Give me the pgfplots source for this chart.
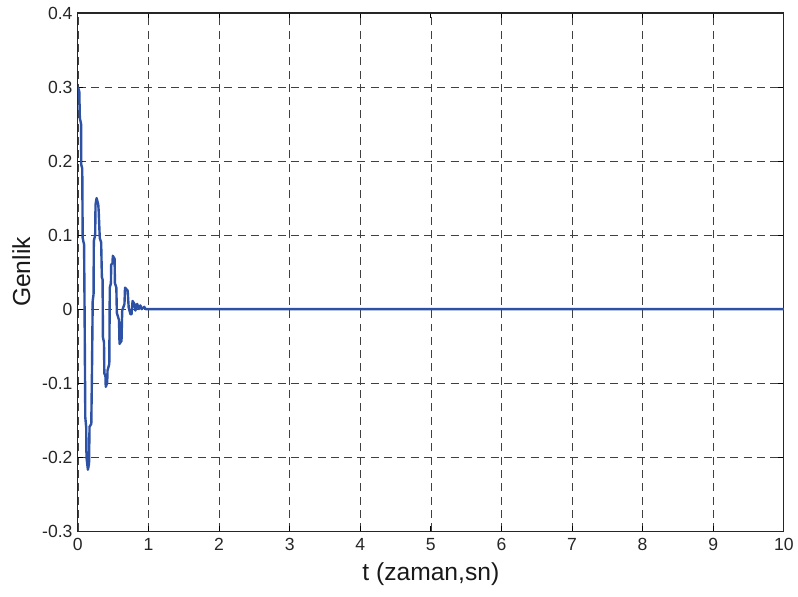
\documentclass[border=0pt]{standalone}
\usepackage{pgfplots}
\pgfplotsset{compat=1.18}
\usepackage{fontspec}
\setmainfont{Liberation Sans}
\definecolor{sigblue}{RGB}{45,82,165}

\begin{document}
\begin{tikzpicture}
\begin{axis}[
  scale only axis,
  width=530.25pt, height=389.25pt,
  xmin=0, xmax=10, ymin=-0.3, ymax=0.4,
  xtick={0,1,...,10},
  ytick={-0.3,-0.2,-0.1,0,0.1,0.2,0.3,0.4},
  yticklabels={-0.3,-0.2,-0.1,0,0.1,0.2,0.3,0.4},
  /pgf/number format/assume math mode=true,
  tick label style={font=\fontsize{13.2pt}{15pt}\selectfont, black!85},
  xticklabel style={yshift=-2pt},
  yticklabel style={xshift=-0.5pt},
  tick align=inside,
  major tick length=4pt,
  tick style={black, line width=0.6pt},
  grid=major,
  major grid style={black!75, line width=0.5pt, dash pattern=on 6pt off 4pt},
  axis line style={black!85, line width=0.8pt},
  xlabel={t (zaman,sn)},
  ylabel={Genlik},
  label style={font=\fontsize{18.5pt}{22pt}\selectfont, black!90},
  xlabel style={yshift=-2pt},
  ylabel style={yshift=2pt},
  clip=true,
]
% decaying oscillation, sampled response
\addplot[sigblue, line width=1.8pt, line join=round] coordinates {
  (0.000, 0.300) (0.020, 0.294) (0.028, 0.258) (0.045, 0.250)
  (0.048, 0.195) (0.062, 0.190) (0.068, 0.096) (0.088, 0.087)
  (0.095,-0.002) (0.105,-0.146) (0.118,-0.160) (0.122,-0.200)
  (0.142,-0.217) (0.158,-0.209) (0.165,-0.159) (0.190,-0.155)
  (0.200,-0.083) (0.210, 0.011) (0.222, 0.020) (0.226, 0.092)
  (0.245, 0.100) (0.250, 0.141) (0.265, 0.150) (0.289, 0.141)
  (0.295, 0.132) (0.310, 0.096) (0.330, 0.090) (0.340, 0.043)
  (0.350, 0.040) (0.355,-0.038) (0.370,-0.045) (0.375,-0.087)
  (0.390,-0.090) (0.395,-0.105) (0.415,-0.100) (0.420,-0.083)
  (0.445,-0.074) (0.452, 0.029) (0.468, 0.035) (0.472, 0.060)
  (0.490, 0.062) (0.495, 0.072) (0.520, 0.068) (0.525, 0.035)
  (0.545, 0.029) (0.552,-0.005) (0.583,-0.015) (0.590,-0.047)
  (0.618,-0.043) (0.628,-0.002) (0.660, 0.007) (0.668, 0.029)
  (0.705, 0.025) (0.720, 0.002) (0.745,-0.007) (0.760,-0.007)
  (0.775, 0.011) (0.800, 0.007) (0.815,-0.002) (0.840, 0.007)
  (0.865, 0.000) (0.885, 0.005) (0.905, 0.000) (0.940, 0.003)
  (0.960, 0.000) (10.000, 0.000)
};
\end{axis}
\path[use as bounding box] (-58.5pt,-48.75pt) rectangle (540pt,399pt);
\end{tikzpicture}
\end{document}
